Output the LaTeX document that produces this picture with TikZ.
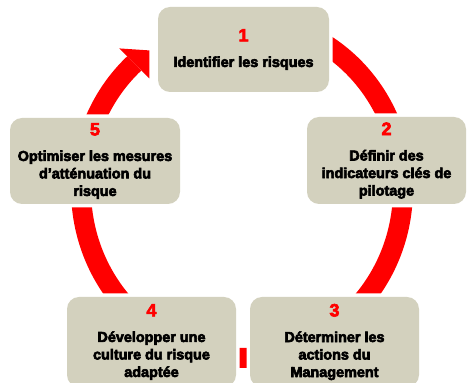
\documentclass[tikz,border=0pt]{standalone}
\usepackage{fontspec}
\setmainfont{Liberation Sans}
\usetikzlibrary{calc}

\definecolor{boxtan}{RGB}{211,209,190}
\definecolor{ringred}{RGB}{255,0,0}

% thicker strokes for the bold labels
\newcommand{\heavytext}{\special{pdf:literal 2 Tr 0.6 w}}

\tikzset{
  etape/.style={rounded corners=12pt, fill=boxtan, preaction={draw=white, line width=7pt},
    align=center, inner sep=0pt, minimum width=170pt, minimum height=86pt,
    font=\fontsize{14.4}{17.5}\selectfont\bfseries\heavytext},
  ring/.style={draw=ringred, line width=20pt},
}
\newcommand{\num}[1]{{\fontsize{18}{18}\selectfont\color{ringred}#1}\\[8pt]}

\begin{document}
\begin{tikzpicture}[x=1pt, y=1pt]
    \useasboundingbox (0,0) rectangle (467,383);
    % red cycle arrow behind the boxes
    \coordinate (ctr) at (242,194);
    \draw[ring] (242,363) arc[start angle=90, end angle=-228, x radius=161, y radius=169] coordinate (hb);
    \fill[ringred] ($(hb)+(-15,15)$) -- ($(hb)+(15,13)$) -- ($(hb)+(15,-15)$) -- cycle;

    % the five steps
    \node[etape, minimum width=171pt, minimum height=85pt] (s1) at (243.5,333.5) {\num{1}Identifier les risques};
    \node[etape, minimum width=159pt, minimum height=87pt] (s2) at (386.5,222.5) {\num{2}Définir des\\indicateurs clés de\\pilotage};
    \node[etape, minimum width=169pt, minimum height=90pt] (s3) at (334.5,41) {\num{3}Déterminer les\\actions du\\Management};
    \node[etape, minimum width=169pt, minimum height=90pt] (s4) at (151.5,41) {\num{4}Développer une\\culture du risque\\adaptée};
    \node[etape, minimum width=170pt, minimum height=86pt] (s5) at (95,222) {\num{5}Optimiser les mesures\\d’atténuation du\\risque};
\end{tikzpicture}
\end{document}
